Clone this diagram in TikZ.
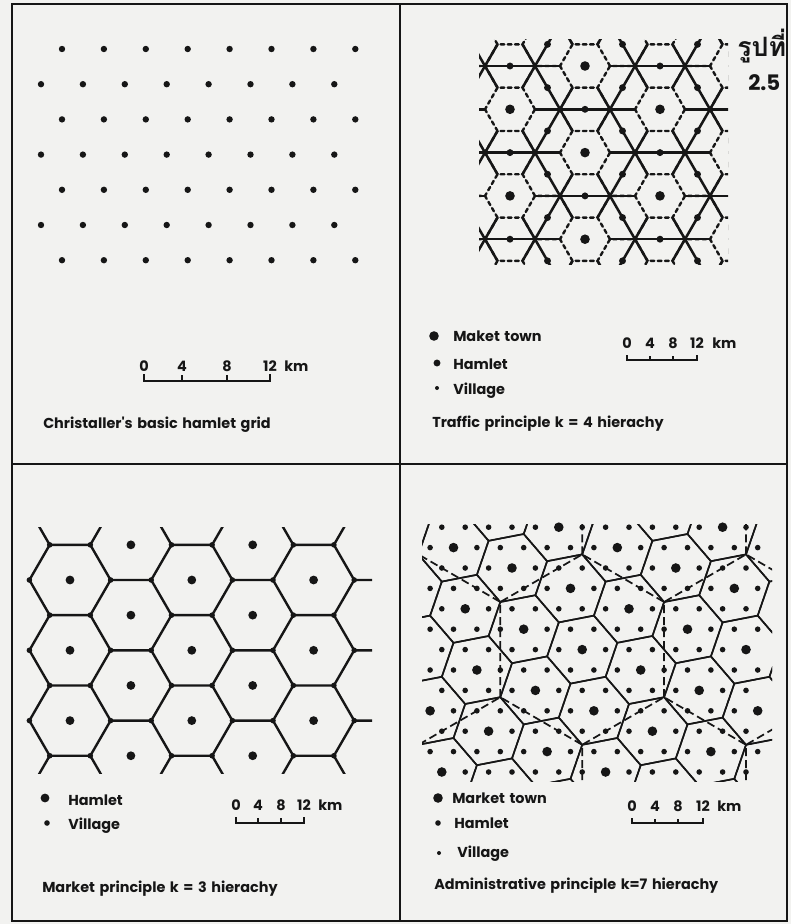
\documentclass[tikz,border=0pt]{standalone}
\usepackage{fontspec}
\setmainfont{Poppins}
\newfontfamily\capfont{Poppins}[WordSpace=1.5]
\newfontfamily\thaifont[Script=Thai]{Loma}
\definecolor{paper}{RGB}{242,242,240}
\definecolor{ink}{RGB}{22,22,22}

\begin{document}
\begin{tikzpicture}[
  x=0.75pt, y=-0.75pt,
  panelframe/.style={draw=ink, line width=1.8pt},
  griddot/.style={fill=ink, radius=2.4pt},
  town/.style={fill=ink, radius=3.6pt},
  hamlet/.style={fill=ink, radius=2.6pt},
  village/.style={fill=ink, radius=1.5pt},
  bighamlet/.style={fill=ink, radius=3.3pt},
  smallvillage/.style={fill=ink, radius=2.1pt},
  road/.style={draw=ink, line width=1.9pt},
  fineline/.style={draw=ink, line width=1.8pt, line cap=round, dash pattern=on 2.8pt off 2.6pt},
  cellline/.style={draw=ink, line width=1.8pt},
  mktline/.style={draw=ink, line width=1.2pt},
  adminline/.style={draw=ink, line width=1.3pt, dash pattern=on 6pt off 3pt},
  kmbar/.style={draw=ink, line width=1.2pt},
  caption/.style={font=\capfont\bfseries\fontsize{10.8}{12}\selectfont, anchor=base west, inner sep=0pt, text=ink},
  kmlabel/.style={font=\capfont\bfseries\fontsize{10.8}{12}\selectfont, anchor=base, inner sep=0pt, text=ink}
]

\fill[paper] (0,0) rectangle (791,924);
\useasboundingbox (0,0) rectangle (791,924);

% frame and panel dividers
\draw[panelframe] (12,4) rectangle (787,921);
\draw[panelframe] (400,4) -- (400,921);
\draw[panelframe] (12,464) -- (787,464);

% ---- basic hamlet grid
\foreach \r in {0,...,6}{
  \pgfmathsetmacro\rowy{49+35.2*\r}
  \pgfmathsetmacro\rowx{iseven(\r) ? 62 : 41}
  \foreach \c in {0,...,7}
    \fill[griddot] ({\rowx+41.9*\c},\rowy) circle;
}
\draw[kmbar] (144,374) -- (144,381) -- (270,381) -- (270,374);
\foreach \t in {182,227} \draw[kmbar] (\t,381) -- (\t,375);
\foreach \t/\lab in {144/0, 182/4, 227/8, 270/12}
  \node[kmlabel] (barA-\lab) at (\t,371) {\lab};
\node[kmlabel, anchor=base west] (kmA) at (284,371) {km};
\node[caption] (capA) at (43,428) {Christaller's basic hamlet grid};

% ---- traffic principle k = 4
\begin{scope}
  \clip (479,40) rectangle (728,264);
  % roads
  \foreach \y in {66,109.3,152.6,195.9,239.2} \draw[road] (470,\y) -- (740,\y);
  \foreach \m in {-5,...,6}{
    \draw[road] ({435+50*\m},-193.8) -- ({735+50*\m},325.8);
    \draw[road] ({735+50*\m},-193.8) -- ({435+50*\m},325.8);
  }
  % no road inside a market town area
  \foreach \i in {-4,-2,...,4}
    \foreach \j in {-4,-2,...,8}{
      \pgfmathsetmacro\cx{585+37.5*\i}
      \pgfmathsetmacro\cy{66+21.65*\i+43.3*\j}
      \fill[paper] (\cx+25,\cy) -- (\cx+12.5,\cy+21.65) -- (\cx-12.5,\cy+21.65)
        -- (\cx-25,\cy) -- (\cx-12.5,\cy-21.65) -- (\cx+12.5,\cy-21.65) -- cycle;
    }
  % hexagon boundaries (three edges per cell)
  \foreach \i in {-4,...,5}
    \foreach \j in {-4,...,8}{
      \pgfmathsetmacro\cx{585+37.5*\i}
      \pgfmathsetmacro\cy{66+21.65*\i+43.3*\j}
      \draw[fineline] (\cx+25,\cy) -- (\cx+12.5,\cy-21.65) -- (\cx-12.5,\cy-21.65) -- (\cx-25,\cy);
    }
\end{scope}
\foreach \i in {-2,...,3}
  \foreach \j in {-3,...,8}{
    \pgfmathsetmacro\cx{585+37.5*\i}
    \pgfmathsetmacro\cy{66+21.65*\i+43.3*\j}
    \pgfmathtruncatemacro\seen{(\cy>39)&&(\cy<266)}
    \pgfmathtruncatemacro\mkt{iseven(\i)&&iseven(\j)}
    \ifnum\seen=1
      \ifnum\mkt=1 \fill[town] (\cx,\cy) circle; \else \fill[hamlet] (\cx,\cy) circle; \fi
    \fi
  }
\fill[town] (434,336) circle;
\fill[hamlet] (437,363) circle;
\fill[village] (437,388) circle;
\node[caption] (legB1) at (453,341) {Maket town};
\node[caption] (legB2) at (453,369) {Hamlet};
\node[caption] (legB3) at (453,394) {Village};
\draw[kmbar] (627,355) -- (627,360) -- (697,360) -- (697,355);
\foreach \t in {650,673} \draw[kmbar] (\t,360) -- (\t,356);
\foreach \t/\lab in {627/0, 650/4, 673/8, 697/12}
  \node[kmlabel] (barB-\lab) at (\t,348) {\lab};
\node[kmlabel, anchor=base west] (kmB) at (712,348) {km};
\node[caption] (capB) at (432,427) {Traffic principle k = 4 hierachy};

\node[anchor=base west, inner sep=0pt, text=ink, font=\thaifont\bfseries\fontsize{20}{22}\selectfont]
  (figtitle) at (737,57) {รูปที่};
\node[anchor=base west, inner sep=0pt, text=ink, font=\bfseries\fontsize{16}{18}\selectfont]
  (fignumber) at (748,90) {2.5};

% ---- market principle k = 3
\begin{scope}
  \clip (28,527) rectangle (372,773);
  \foreach \i in {-1,...,6}
    \foreach \j in {-1,...,4}{
      \pgfmathsetmacro\cx{70+60.9*\i}
      \pgfmathsetmacro\cy{580-35.15*mod(\i+2,2)+70.3*\j}
      \draw[cellline] (\cx+40.6,\cy) -- (\cx+20.3,\cy-35.15) -- (\cx-20.3,\cy-35.15) -- (\cx-40.6,\cy);
    }
\end{scope}
\foreach \i in {-1,...,5}
  \foreach \j in {-1,...,4}{
    \pgfmathsetmacro\cx{70+60.9*\i}
    \pgfmathsetmacro\cy{580-35.15*mod(\i+2,2)+70.3*\j}
    \pgfmathtruncatemacro\rowin{(\cy>525)&&(\cy<775)}
    \pgfmathtruncatemacro\seen{\rowin&&(\cx>27)&&(\cx<372)}
    \pgfmathtruncatemacro\seenr{\rowin&&(\cx+40.6<375)}
    \pgfmathtruncatemacro\seenl{\rowin&&(\cx-40.6>26)&&(\cx-40.6<375)}
    \ifnum\seen=1 \fill[bighamlet] (\cx,\cy) circle; \fi
    \ifnum\seenr=1 \fill[smallvillage] (\cx+40.6,\cy) circle; \fi
    \ifnum\seenl=1 \fill[smallvillage] (\cx-40.6,\cy) circle; \fi
  }
\fill[bighamlet] (45,798) circle;
\fill[smallvillage] (47,823) circle;
\node[caption] (legC1) at (68,805) {Hamlet};
\node[caption] (legC2) at (68,829) {Village};
\draw[kmbar] (236,817) -- (236,823) -- (304,823) -- (304,817);
\foreach \t in {258,281} \draw[kmbar] (\t,823) -- (\t,818);
\foreach \t/\lab in {236/0, 258/4, 281/8, 304/12}
  \node[kmlabel] (barC-\lab) at (\t,810) {\lab};
\node[kmlabel, anchor=base west] (kmC) at (318,810) {km};
\node[caption] (capC) at (42,892) {Market principle k = 3 hierachy};

% ---- administrative principle k = 7
\begin{scope}
  \clip (422,524) rectangle (772,781);
  \foreach \m in {-6,...,6}
    \foreach \n in {-4,...,5}{
      \pgfmathsetmacro\cx{512+58.5*\m+11.7*\n}
      \pgfmathsetmacro\cy{568+20.4*\m+61.2*\n}
      \draw[mktline] (\cx+23.4,\cy+27.2) -- (\cx-11.7,\cy+34) -- (\cx-35.1,\cy+6.8)
        -- (\cx-23.4,\cy-27.2) -- (\cx+11.7,\cy-34) -- (\cx+35.1,\cy-6.8) -- cycle;
    }
  \foreach \p in {-2,...,2}
    \foreach \q in {-1,...,2}{
      \pgfmathsetmacro\ax{582.2+163.8*\p+81.9*\q}
      \pgfmathsetmacro\ay{649.6+142.8*\q}
      \draw[adminline] (\ax-81.9,\ay+47.6) -- (\ax-81.9,\ay-47.6) -- (\ax,\ay-95.2) -- (\ax+81.9,\ay-47.6);
    }
\end{scope}
\foreach \k in {-2,...,10}
  \foreach \i in {-12,...,13}{
    \pgfmathsetmacro\px{512+23.4*\i+11.7*\k}
    \pgfmathsetmacro\py{568+20.4*\k}
    \pgfmathtruncatemacro\seen{(\px>427)&&(\px<769)}
    \pgfmathtruncatemacro\mkt{mod(3*\i+\k+70,7)==0}
    \ifnum\seen=1
      \ifnum\mkt=1 \fill[town] (\px,\py) circle; \else \fill[smallvillage] (\px,\py) circle; \fi
    \fi
  }
\fill[town] (438,798) circle;
\fill[smallvillage] (438,823) circle;
\fill[village] (439,853) circle;
\node[caption] (legD1) at (452,803) {Market town};
\node[caption] (legD2) at (454,828) {Hamlet};
\node[caption] (legD3) at (457,857) {Village};
\draw[kmbar] (632,818) -- (632,823) -- (703,823) -- (703,818);
\foreach \t in {655,678} \draw[kmbar] (\t,823) -- (\t,819);
\foreach \t/\lab in {632/0, 655/4, 678/8, 703/12}
  \node[kmlabel] (barD-\lab) at (\t,811) {\lab};
\node[kmlabel, anchor=base west] (kmD) at (717,811) {km};
\node[caption] (capD) at (434,889) {Administrative principle k=7 hierachy};

\end{tikzpicture}
\end{document}
